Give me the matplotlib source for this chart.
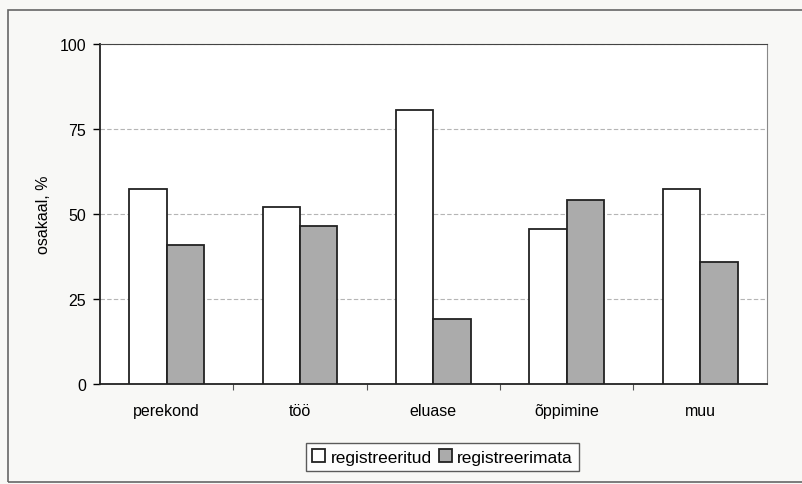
import matplotlib.pyplot as plt
from matplotlib.patches import Rectangle
import numpy as np

plt.rcParams["font.family"] = ["Liberation Sans", "DejaVu Sans"]

categories = ["perekond", "töö", "eluase", "õppimine", "muu"]
registreeritud = [57.5, 52, 80.5, 45.5, 57.5]
registreerimata = [41, 46.5, 19, 54, 36]
yticks = [0, 25, 50, 75, 100]

bg = "#f8f8f6"
fs = 11.5
fig = plt.figure(figsize=(8.03, 4.85), dpi=100, facecolor=bg)
ax = fig.add_axes([0.1245, 0.2062, 0.8305, 0.701])
ax.set_facecolor("white")

# outer chart frame
fig.patches.append(Rectangle((8 / 803, 2 / 485), 1.2, 472 / 485, transform=fig.transFigure,
                             fill=False, edgecolor="#666666", linewidth=1.2))

x = np.arange(len(categories))
w = 0.28
ax.bar(x - w / 2, registreeritud, w, color="white", edgecolor="#222222",
       linewidth=1.3, label="registreeritud", zorder=3)
ax.bar(x + w / 2, registreerimata, w, color="#ababab", edgecolor="#222222",
       linewidth=1.3, label="registreerimata", zorder=3)

ax.set_xlim(-0.5, len(categories) - 0.5)
ax.set_ylim(0, 100)
ax.set_yticks(yticks)
ax.tick_params(axis="y", direction="out", length=5, width=1, labelsize=fs, pad=5)
ax.set_xticks(x)
ax.set_xticklabels(categories)
ax.tick_params(axis="x", length=0, labelsize=fs, pad=14)
ax.set_xticks(np.arange(0.5, len(categories) - 1, 1), minor=True)
ax.tick_params(axis="x", which="minor", direction="out", length=4, width=0.8, color="#555555")
ax.grid(axis="y", linestyle=(0, (4, 2)), color="#b5b5b5", linewidth=0.8, zorder=0)
ax.set_ylabel("osakaal, %", fontsize=fs, labelpad=6)

for side in ["left", "bottom"]:
    ax.spines[side].set_color("#222222")
    ax.spines[side].set_linewidth(1.3)
ax.spines["top"].set_color("#444444")
ax.spines["right"].set_color("#888888")

leg = fig.legend(loc="center", bbox_to_anchor=(0.551, 0.0557), ncol=2, frameon=True,
                 fancybox=False, fontsize=12.5, handlelength=0.75, handleheight=0.75,
                 handletextpad=0.3, columnspacing=0.4, borderpad=0.35, edgecolor="#333333")
leg.get_frame().set_linewidth(1.0)

fig.savefig("out.png", dpi=100, facecolor=bg)
